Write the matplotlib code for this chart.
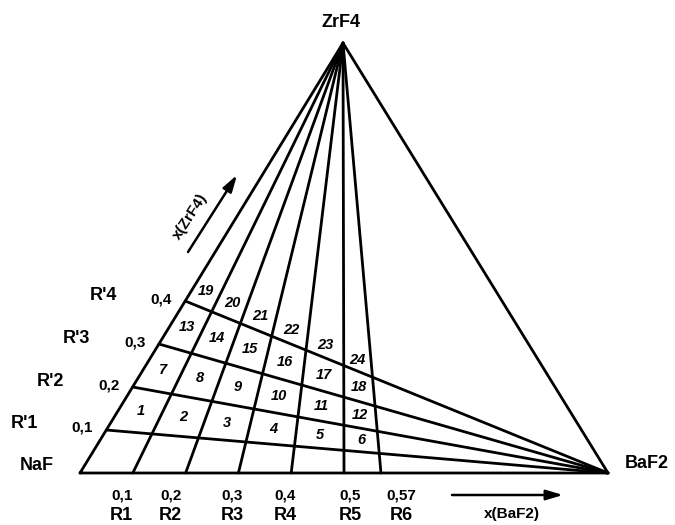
import matplotlib
matplotlib.use("Agg")
import matplotlib.pyplot as plt
import numpy as np

# Ternary system NaF - BaF2 - ZrF4
# R lines: constant x(BaF2) on the NaF-BaF2 join, drawn towards ZrF4
r_values = [0.1, 0.2, 0.3, 0.4, 0.5, 0.57]
r_ticks = ["0,1", "0,2", "0,3", "0,4", "0,5", "0,57"]
r_names = ["R1", "R2", "R3", "R4", "R5", "R6"]

# R' lines: constant x(ZrF4) on the NaF-ZrF4 join, drawn towards BaF2
rp_values = [0.1, 0.2, 0.3, 0.4]
rp_ticks = ["0,1", "0,2", "0,3", "0,4"]
rp_names = ["R'1", "R'2", "R'3", "R'4"]

# Sample numbers, row by row (R'1-R'2, R'2-R'3, R'3-R'4, above R'4)
samples = [[1, 2, 3, 4, 5, 6],
           [7, 8, 9, 10, 11, 12],
           [13, 14, 15, 16, 17, 18],
           [19, 20, 21, 22, 23, 24]]

vertex_names = ["NaF", "BaF2", "ZrF4"]

W, H = 675, 525
fig = plt.figure(figsize=(W / 100, H / 100), dpi=100)
ax = fig.add_axes([0, 0, 1, 1])
ax.axis("off")

# Cartesian frame: NaF at origin, BaF2 at (1, 0), ZrF4 at apex
scale = 528.0           # pixels per unit along the base
x0_px, y0_px = 80, 473  # NaF corner, pixels from top-left
apex = np.array([(343 - x0_px) / scale, (y0_px - 43) / scale])
NAF = np.array([0.0, 0.0])
BAF = np.array([1.0, 0.0])
ZRF = apex

ax.set_xlim(-x0_px / scale, (W - x0_px) / scale)
ax.set_ylim(-(H - y0_px) / scale, y0_px / scale)


def px(x, y):
    """Pixel position (from top-left) to data coordinates."""
    return ((x - x0_px) / scale, (y0_px - y) / scale)


def bary(n, b, z):
    s = n + b + z
    return (n * NAF + b * BAF + z * ZRF) / s


def point(a, c):
    """Point where BaF2/(BaF2+NaF)=a and ZrF4/(ZrF4+NaF)=c."""
    b = a / (1 - a)
    z = c / (1 - c)
    return bary(1.0, b, z)


lw = 2.0
kw = dict(color="black", lw=lw, solid_capstyle="round", solid_joinstyle="round")

# triangle edges
tri = np.array([NAF, BAF, ZRF, NAF])
ax.plot(tri[:, 0], tri[:, 1], **kw)

# R lines from ZrF4 to the NaF-BaF2 join
for a in r_values:
    p = bary(1 - a, a, 0)
    ax.plot([ZRF[0], p[0]], [ZRF[1], p[1]], **kw)

# R' lines from BaF2 to the NaF-ZrF4 join
for c in rp_values:
    p = bary(1 - c, 0, c)
    ax.plot([BAF[0], p[0]], [BAF[1], p[1]], **kw)

bold = dict(family=["Liberation Sans", "DejaVu Sans"], fontweight="bold",
            color="black")

# vertex labels
ax.text(*px(341, 22), vertex_names[2], ha="center", va="center", fontsize=13, **bold)
ax.text(*px(37, 465), vertex_names[0], ha="center", va="center", fontsize=13, **bold)
ax.text(*px(647, 463), vertex_names[1], ha="center", va="center", fontsize=13, **bold)

# base tick labels and names
tick_dx = [-11, -15, -6, -6, 6, 20]
for a, t, n, dx in zip(r_values, r_ticks, r_names, tick_dx):
    p = bary(1 - a, a, 0)
    ax.text(p[0] + dx / scale, px(0, 495)[1], t, ha="center", va="center",
            fontsize=11, **bold)
    ax.text(p[0] + dx / scale, px(0, 515)[1], n, ha="center", va="center",
            fontsize=13, **bold)

# left edge tick labels and names
for c, t, n in zip(rp_values, rp_ticks, rp_names):
    p = bary(1 - c, 0, c)
    ax.text(p[0] - 24 / scale, p[1] + 2 / scale, t, ha="center", va="center",
            fontsize=11, **bold)
    ax.text(p[0] - 82 / scale, p[1] + 6 / scale, n, ha="center", va="center",
            fontsize=13, **bold)

# sample numbers inside the cells
a_edges = [0.0] + r_values
c_edges = rp_values + [0.47]
num = dict(family=["Liberation Sans", "DejaVu Sans"], fontweight="bold",
           fontstyle="italic", color="black", fontsize=10.5)
for i, row in enumerate(samples):
    c_lo, c_hi = c_edges[i], c_edges[i + 1]
    c_mid = 0.5 * (c_lo + c_hi) if i < 3 else c_lo + 0.035
    for j, s in enumerate(row):
        a_mid = 0.5 * (a_edges[j] + a_edges[j + 1])
        p = point(a_mid, c_mid)
        ax.text(p[0], p[1], str(s), ha="center", va="center", **num)

# composition arrows
arrow = dict(arrowstyle="-|>,head_length=1.0,head_width=0.3", color="black",
             lw=1.8, shrinkA=0, shrinkB=0)
ax.annotate("", xy=px(563, 495), xytext=px(452, 495), arrowprops=arrow)
ax.text(*px(512, 514), "x(BaF2)", ha="center", va="center", fontsize=11, **bold)

ax.annotate("", xy=px(237, 175), xytext=px(188, 252), arrowprops=arrow)
ax.text(*px(190, 216), "x(ZrF4)", ha="center", va="center", fontsize=11,
        rotation=57, rotation_mode="anchor", **bold)

fig.savefig("out.png", dpi=100)
